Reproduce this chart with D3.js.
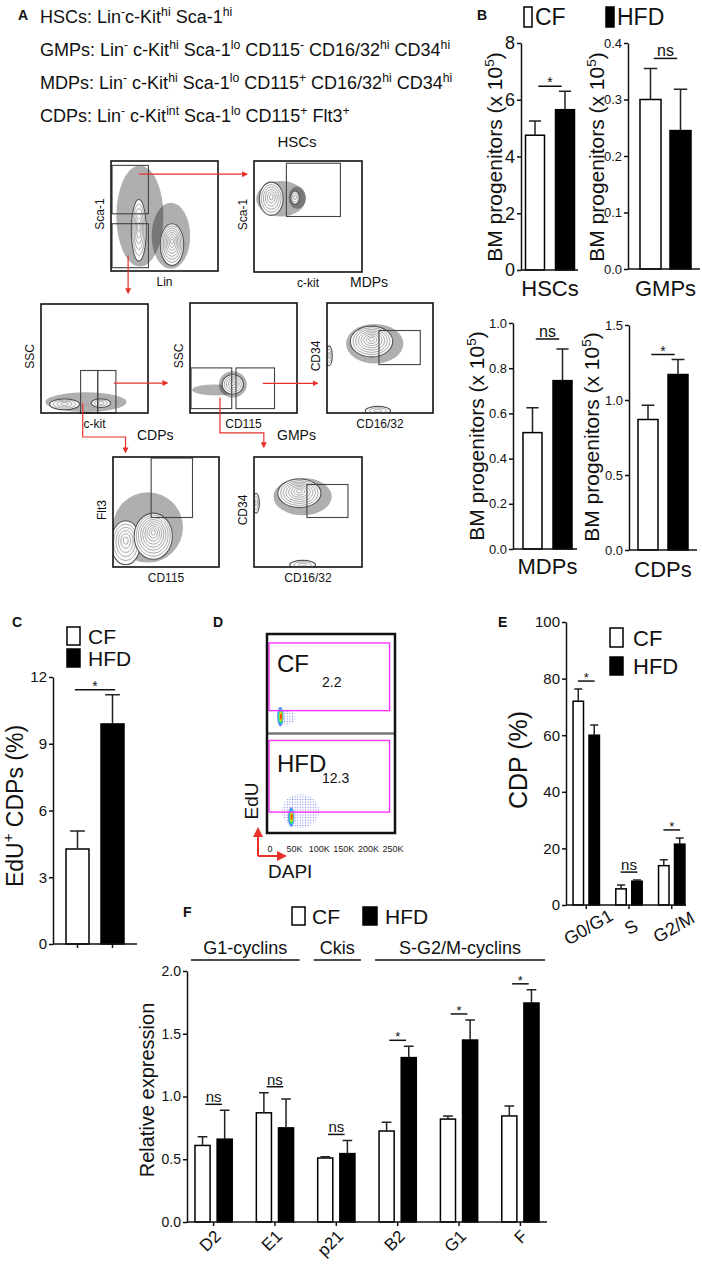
<!DOCTYPE html>
<html>
<head>
<meta charset="utf-8">
<script src="https://cdn.jsdelivr.net/npm/d3@7"></script>
<style>
  body { margin: 0; background: #fff; }
  svg { display: block; font-family: "Liberation Sans", Arial, Helvetica, sans-serif; }
</style>
</head>
<body>
<script>

// ---------- data ----------
// A: phenotypes
var phenoLines = [
  "HSCs: Lin^{-}c-Kit^{hi} Sca-1^{hi}",
  "GMPs: Lin^{-} c-Kit^{hi} Sca-1^{lo} CD115^{-} CD16/32^{hi} CD34^{hi}",
  "MDPs: Lin^{-} c-Kit^{hi} Sca-1^{lo} CD115^{+} CD16/32^{hi} CD34^{hi}",
  "CDPs: Lin^{-} c-Kit^{int} Sca-1^{lo} CD115^{+} Flt3^{+}"
];
// A: gating plots (axis units 0-100)
var flowXLabels = ["Lin", "c-kit", "c-kit", "CD115", "CD16/32", "CD115", "CD16/32"];
var flowYLabels = ["Sca-1", "Sca-1", "SSC", "SSC", "CD34", "Flt3", "CD34"];
var flowGates = [
  [[1, 52, 35, 96], [1, 3, 35, 43]],
  [[30, 50, 80, 98]],
  [[37, 0, 53, 39], [53, 0, 70, 39]],
  [[1, 4, 39, 41], [43, 4, 79, 41]],
  [[49, 44, 88, 75]],
  [[36, 45, 75, 99]],
  [[49, 45, 87, 75]]
];
var flowClouds = [
  [[27, 50, 22, 46], [56, 32, 18, 30]],
  [[25, 66, 23, 16], [40, 67, 8, 10]],
  [[42, 10, 38, 9]],
  [[24, 21, 22, 5], [40, 26, 13, 12]],
  [[45, 63, 27, 18]],
  [[33, 36, 33, 32]],
  [[45, 64, 27, 17]]
];
var flowPops = [
  [[26, 37, 7, 28, 6], [57, 24, 11, 19, 8]],
  [[16, 66, 11, 15, 6], [38, 67, 4, 6, 3]],
  [[22, 8, 14, 5, 4], [56, 9, 9, 4, 3]],
  [[40, 26, 10, 9, 5]],
  [[42, 65, 20, 14, 8], [2, 52, 3, 9, 3], [48, 2, 12, 4, 3]],
  [[12, 22, 14, 20, 6], [38, 28, 18, 21, 9]],
  [[42, 67, 20, 13, 8], [2, 58, 3, 9, 3], [45, 2, 12, 4, 3]]
];
var flowGateNames = ["HSCs", "MDPs", "CDPs", "GMPs"];
// arrows: source plot, path in that plot's units
var flowArrowFrom = [0, 0, 2, 2, 3, 3];
var flowArrowPath = [
  [[26, 88], [127, 88]],
  [[16, 14], [16, -20]],
  [[68, 27.5], [118, 27.5]],
  [[39, 9], [39, -22], [79, -22], [79, -36]],
  [[68, 27], [119, 27]],
  [[28, 14], [28, -18], [69, -18], [69, -31]]
];

// B: BM progenitors (x 10^5)
var bCells = ["HSCs", "GMPs", "MDPs", "CDPs"];
var bCF = [4.75, 0.30, 0.515, 0.87];
var bCFerr = [0.5, 0.055, 0.11, 0.095];
var bHFD = [5.65, 0.245, 0.745, 1.17];
var bHFDerr = [0.65, 0.073, 0.14, 0.10];
var bMax = [8, 0.4, 1.0, 1.5];
var bTicks = [[0, 2, 4, 6, 8], [0, 0.1, 0.2, 0.3, 0.4], [0, 0.2, 0.4, 0.6, 0.8, 1.0], [0, 0.5, 1.0, 1.5]];
var bSig = ["*", "ns", "ns", "*"];

// C: EdU+ CDPs (%)
var cCF = [4.27], cCFerr = [0.81];
var cHFD = [9.89], cHFDerr = [1.31];
var cTicks = [0, 3, 6, 9, 12];
var cSig = ["*"];

// D: EdU vs DAPI
var dSamples = ["CF", "HFD"];
var dPercent = ["2.2", "12.3"];
var dTicks = [0, 50, 100, 150, 200, 250];
var dTickLabels = ["0", "50K", "100K", "150K", "200K", "250K"];
var dGates = [[-2, 23, 243, 91], [-2, 21, 243, 93]];
var dScatter = [[34, 16, 18, 7], [62, 22, 38, 17]];
var dCore = [[21, 17], [43, 16]];

// E: cell cycle
var ePhases = ["G0/G1", "S", "G2/M"];
var eCF = [72, 5.7, 13.9];
var eCFerr = [4.3, 1.4, 2.1];
var eHFD = [60, 8.4, 21.5];
var eHFDerr = [3.6, 0.4, 2.2];
var eTicks = [0, 20, 40, 60, 80, 100];
var eSig = ["*", "ns", "*"];

// F: relative expression
var fGenes = ["D2", "E1", "p21", "B2", "G1", "F"];
var fCF = [0.61, 0.87, 0.51, 0.725, 0.82, 0.845];
var fCFerr = [0.07, 0.16, 0.01, 0.07, 0.025, 0.08];
var fHFD = [0.66, 0.75, 0.545, 1.31, 1.45, 1.745];
var fHFDerr = [0.23, 0.23, 0.105, 0.09, 0.16, 0.105];
var fSig = ["ns", "ns", "ns", "*", "*", "*"];
var fTicks = [0, 0.5, 1.0, 1.5, 2.0];
var fGroupNames = ["G1-cyclins", "Ckis", "S-G2/M-cyclins"];
var fGroupSpan = [[0, 1], [2, 2], [3, 5]];

var series = ["CF", "HFD"];

// ---------- helpers ----------
var svg = d3.select("body").append("svg").attr("width", 702).attr("height", 1267);
var defs = svg.append("defs");
defs.append("pattern").attr("id", "dots").attr("width", 2).attr("height", 2)
    .attr("patternUnits", "userSpaceOnUse")
  .append("circle").attr("cx", 1).attr("cy", 1).attr("r", 0.65).attr("fill", "#000");
defs.append("pattern").attr("id", "bdots").attr("width", 2.6).attr("height", 2.6)
    .attr("patternUnits", "userSpaceOnUse")
  .append("circle").attr("cx", 1.3).attr("cy", 1.3).attr("r", 0.6).attr("fill", "#3344ee");
var mk = defs.append("marker").attr("id", "arrow").attr("viewBox", "0 0 10 10")
    .attr("refX", 8).attr("refY", 5).attr("markerWidth", 5).attr("markerHeight", 5)
    .attr("orient", "auto-start-reverse");
mk.append("path").attr("d", "M0,0L10,5L0,10z").attr("fill", "#e8312b");

function rich(t, str, supFs, raise) {
  var parts = str.split(/(\^\{[^}]*\})/).filter(function (p) { return p.length; });
  var up = false;
  parts.forEach(function (p) {
    var sup = p.charAt(0) === "^";
    var s = t.append("tspan").text(sup ? p.slice(2, -1) : p);
    if (sup) { s.attr("font-size", supFs).attr("dy", up ? 0 : -raise); up = true; }
    else if (up) { s.attr("dy", raise); up = false; }
  });
  return t;
}

function label(x, y, str, fs, opts) {
  opts = opts || {};
  var t = svg.append("text").attr("x", x).attr("y", y).attr("font-size", fs)
    .attr("text-anchor", opts.anchor || "start").attr("fill", "#111");
  if (opts.bold) t.attr("font-weight", "bold");
  return rich(t, str, fs * 0.68, fs * 0.4);
}

function vlabel(cx, cy, str, fs) {
  var t = svg.append("text").attr("font-size", fs).attr("text-anchor", "middle").attr("fill", "#111")
    .attr("transform", "translate(" + (cx + 0.35 * fs) + "," + cy + ") rotate(-90)");
  return rich(t, str, fs * 0.65, fs * 0.42);
}

// slanted category label: its upper-right end sits at (ex, ey); rotated about its own centre
function slant(parent, ex, ey, angle, str, fs) {
  var t = parent.append("text").attr("font-size", fs).attr("text-anchor", "middle")
    .attr("fill", "#111").attr("y", 0.35 * fs).text(str);
  var w = t.node().getComputedTextLength();
  var r = -angle * Math.PI / 180;
  var cx = ex - w / 2 * Math.cos(r), cy = ey + w / 2 * Math.sin(r);
  t.attr("transform", "translate(" + cx + "," + cy + ") rotate(" + angle + ")");
}

function legend(items) {
  items.forEach(function (it) {
    svg.append("rect").attr("x", it.box[0]).attr("y", it.box[1]).attr("width", it.box[2]).attr("height", it.box[3])
      .attr("fill", it.s === "CF" ? "#fff" : "#000").attr("stroke", "#000").attr("stroke-width", 1.5);
    svg.append("text").attr("x", it.tx).attr("y", it.ty).attr("font-size", it.fs).attr("fill", "#111").text(it.s);
  });
}

function yAxis(g, y, x0, ticks, fmt, fs) {
  var a = g.append("g").attr("transform", "translate(" + x0 + ",0)")
    .call(d3.axisLeft(y).tickValues(ticks).tickFormat(fmt).tickSize(4).tickSizeOuter(0).tickPadding(2));
  a.attr("font-family", null).attr("font-size", fs);
  a.selectAll("path,line").attr("stroke", "#111").attr("stroke-width", 1.5);
  a.selectAll("text").attr("fill", "#111");
  return a;
}

function barChart(o) {
  var g = svg.append("g");
  var y = d3.scaleLinear().domain([0, o.max]).range([o.y0, o.y1]);
  var x = d3.scaleBand().domain(o.cats).range(o.xr).paddingInner(o.pi).paddingOuter(o.po);
  var xi = d3.scaleBand().domain(series).range([0, x.bandwidth()])
    .paddingInner(o.pi2).paddingOuter(o.po2 || 0);
  var rows = [];
  o.cats.forEach(function (c, i) {
    rows.push({ c: c, s: "CF", v: o.cf[i], e: o.cfErr[i] });
    rows.push({ c: c, s: "HFD", v: o.hfd[i], e: o.hfdErr[i] });
  });
  function cx(d) { return x(d.c) + xi(d.s) + xi.bandwidth() / 2; }
  var cap = Math.max(4, xi.bandwidth() * 0.32);

  g.selectAll("rect.bar").data(rows).enter().append("rect").attr("class", "bar")
    .attr("x", function (d) { return x(d.c) + xi(d.s); })
    .attr("y", function (d) { return y(d.v); })
    .attr("width", xi.bandwidth())
    .attr("height", function (d) { return y(0) - y(d.v); })
    .attr("fill", function (d) { return d.s === "CF" ? "#fff" : "#000"; })
    .attr("stroke", "#000").attr("stroke-width", 1.5);

  g.selectAll("path.eb").data(rows).enter().append("path").attr("class", "eb")
    .attr("d", function (d) {
      var t = y(d.v + d.e);
      return "M" + cx(d) + "," + y(d.v) + "V" + t + "M" + (cx(d) - cap) + "," + t + "H" + (cx(d) + cap);
    })
    .attr("fill", "none").attr("stroke", "#222").attr("stroke-width", 1.5);

  // significance marks
  o.cats.forEach(function (c, i) {
    var top = Math.min(y(o.cf[i] + o.cfErr[i]), y(o.hfd[i] + o.hfdErr[i])) - o.sigGap;
    var c1 = x(c) + xi("CF") + xi.bandwidth() / 2, c2 = x(c) + xi("HFD") + xi.bandwidth() / 2;
    var m = (c1 + c2) / 2, hw = (c2 - c1) / 2 * o.sigW;
    g.append("line").attr("x1", m - hw).attr("x2", m + hw).attr("y1", top).attr("y2", top)
      .attr("stroke", "#111").attr("stroke-width", 1.5);
    var star = o.sig[i] === "*";
    g.append("text").attr("x", m).attr("y", star ? top + 1 : top - 2)
      .attr("text-anchor", "middle").attr("font-size", star ? o.starFs : o.nsFs)
      .attr("fill", "#111").text(o.sig[i]);
  });

  yAxis(g, y, o.xr[0], o.ticks, o.fmt, o.tickFs);
  g.append("line").attr("x1", o.xr[0]).attr("x2", o.axisEnd).attr("y1", y(0)).attr("y2", y(0))
    .attr("stroke", "#111").attr("stroke-width", 1.5);
  return { g: g, x: x, xi: xi, y: y };
}

// ---------- panel A ----------
label(18, 20, "A", 14, { bold: true });
phenoLines.forEach(function (s, i) { label(40, 23 + i * 33, s, 18); });

var flowBoxes = [
  [111, 161, 218, 271], [254, 161, 362, 272], [41, 304, 148, 413], [190, 303, 297, 413],
  [327, 303, 433, 413], [113, 457, 219, 567], [254, 457, 362, 567]
];
var flowScales = [];
flowBoxes.forEach(function (b, i) {
  var fx = d3.scaleLinear().domain([0, 100]).range([b[0], b[2]]);
  var fy = d3.scaleLinear().domain([0, 100]).range([b[3], b[1]]);
  flowScales.push([fx, fy]);
  defs.append("clipPath").attr("id", "clip" + i).append("rect")
    .attr("x", b[0]).attr("y", b[1]).attr("width", b[2] - b[0]).attr("height", b[3] - b[1]);
  var g = svg.append("g");
  var inner = g.append("g").attr("clip-path", "url(#clip" + i + ")");
  inner.selectAll("ellipse.cloud").data(flowClouds[i]).enter().append("ellipse")
    .attr("cx", function (d) { return fx(d[0]); })
    .attr("cy", function (d) { return fy(d[1]); })
    .attr("rx", function (d) { return fx(d[2]) - fx(0); })
    .attr("ry", function (d) { return fy(0) - fy(d[3]); })
    .attr("fill", "url(#dots)").attr("opacity", 0.9);
  flowPops[i].forEach(function (p) {
    var rings = d3.range(p[4], 0, -1);
    inner.selectAll(null).data(rings).enter().append("ellipse")
      .attr("cx", fx(p[0]))
      .attr("cy", function (k) { return fy(p[1] + (p[4] - k) * 0.02 * p[3]); })
      .attr("rx", function (k) { return (fx(p[2]) - fx(0)) * k / p[4]; })
      .attr("ry", function (k) { return (fy(0) - fy(p[3])) * k / p[4]; })
      .attr("fill", function (k) { return k === p[4] ? "#fafafa" : "none"; })
      .attr("stroke", function (k) { return k === p[4] ? "#555" : "#8a8a8a"; })
      .attr("stroke-width", function (k) { return k === p[4] ? 1.1 : 0.7; });
  });
  g.selectAll("rect.gate").data(flowGates[i]).enter().append("rect")
    .attr("x", function (d) { return fx(d[0]); })
    .attr("y", function (d) { return fy(d[3]); })
    .attr("width", function (d) { return fx(d[2]) - fx(d[0]); })
    .attr("height", function (d) { return fy(d[1]) - fy(d[3]); })
    .attr("fill", "none").attr("stroke", "#444").attr("stroke-width", 1.1);
  g.append("rect").attr("x", b[0]).attr("y", b[1]).attr("width", b[2] - b[0]).attr("height", b[3] - b[1])
    .attr("fill", "none").attr("stroke", "#111").attr("stroke-width", 1.6);
  label((b[0] + b[2]) / 2, b[3] + 15, flowXLabels[i], 12, { anchor: "middle" });
  vlabel(b[0] - 11, (b[1] + b[3]) / 2 - 2, flowYLabels[i], 12);
});
label(297, 147, flowGateNames[0], 15, { anchor: "middle" });
label(350, 287, flowGateNames[1], 14);
label(137, 440, flowGateNames[2], 14);
label(277, 440, flowGateNames[3], 14);

var arrowLine = d3.line();
flowArrowPath.forEach(function (pts, i) {
  var s = flowScales[flowArrowFrom[i]];
  svg.append("path")
    .attr("d", arrowLine(pts.map(function (p) { return [s[0](p[0]), s[1](p[1])]; })))
    .attr("fill", "none").attr("stroke", "#e8312b").attr("stroke-width", 1.2)
    .attr("marker-end", "url(#arrow)");
});

// ---------- panel B ----------
label(477, 20, "B", 14, { bold: true });
legend([
  { s: "CF", box: [524, 7, 8, 20], tx: 535, ty: 25, fs: 23 },
  { s: "HFD", box: [606, 7, 8, 20], tx: 617, ty: 25, fs: 23 }
]);
var bLayout = [
  { xr: [521, 579], y0: 270, y1: 43, po: 0.092, pi2: 0.367, axisEnd: 578, tickFs: 18, fmt: d3.format("d"), lx: 495, ly: 157, cy: 296 },
  { xr: [628, 703], y0: 269, y1: 43, po: 0.235, pi2: 0.30, axisEnd: 700, tickFs: 13, fmt: d3.format(".1f"), lx: 597, ly: 157, cy: 296 },
  { xr: [513, 582], y0: 549, y1: 323, po: 0.204, pi2: 0.367, axisEnd: 577, tickFs: 13, fmt: d3.format(".1f"), lx: 477, ly: 436, cy: 574 },
  { xr: [629, 697], y0: 550, y1: 325, po: 0.18, pi2: 0.333, axisEnd: 697, tickFs: 13, fmt: d3.format(".1f"), lx: 592, ly: 437, cy: 577 }
];
bCells.forEach(function (c, i) {
  var L = bLayout[i];
  var ch = barChart({
    cats: [c], cf: [bCF[i]], cfErr: [bCFerr[i]], hfd: [bHFD[i]], hfdErr: [bHFDerr[i]], sig: [bSig[i]],
    max: bMax[i], ticks: bTicks[i], fmt: L.fmt, tickFs: L.tickFs,
    xr: L.xr, y0: L.y0, y1: L.y1, pi: 0, po: L.po, pi2: L.pi2, axisEnd: L.axisEnd,
    sigGap: i % 3 === 0 ? 5 : 10, sigW: 0.78, starFs: 14, nsFs: 16
  });
  ch.g.append("text").attr("x", ch.x(c) + ch.x.bandwidth() / 2).attr("y", L.cy)
    .attr("text-anchor", "middle").attr("font-size", 22).attr("fill", "#111").text(c);
  vlabel(L.lx, L.ly, "BM progenitors (x 10^{5})", 21);
});

// ---------- panel C ----------
label(12, 627, "C", 14, { bold: true });
legend([
  { s: "CF", box: [67, 627, 13, 18], tx: 88, ty: 644, fs: 21 },
  { s: "HFD", box: [67, 649, 13, 18], tx: 88, ty: 666, fs: 21 }
]);
var cChart = barChart({
  cats: ["EdU"], cf: cCF, cfErr: cCFerr, hfd: cHFD, hfdErr: cHFDerr, sig: cSig,
  max: 12, ticks: cTicks, fmt: d3.format("d"), tickFs: 15,
  xr: [53, 137], y0: 944, y1: 677, pi: 0, po: 0.224, pi2: 0.343, axisEnd: 137,
  sigGap: 5, sigW: 1.15, starFs: 14, nsFs: 15
});
series.forEach(function (s) {
  var px = cChart.x("EdU") + cChart.xi(s) + cChart.xi.bandwidth() / 2;
  cChart.g.append("line").attr("x1", px).attr("x2", px).attr("y1", 944).attr("y2", 948)
    .attr("stroke", "#111").attr("stroke-width", 1.5);
});
vlabel(15, 806, "EdU^{+} CDPs (%)", 23);

// ---------- panel D ----------
label(213, 627, "D", 14, { bold: true });
var dFrame = [267, 634, 395, 833];
var dx = d3.scaleLinear().domain([0, 250]).range([270, 393]);
var dHalf = (dFrame[3] - dFrame[1]) / 2;
var densityColors = ["#3b4cff", "#19c6ff", "#3ad83a", "#f2e600", "#ff3300"];
dSamples.forEach(function (s, i) {
  var top = dFrame[1] + i * dHalf;
  var dy = d3.scaleLinear().domain([0, 100]).range([top + dHalf, top]);
  var sc = dScatter[i];
  svg.append("ellipse").attr("cx", dx(sc[0])).attr("cy", dy(sc[1]))
    .attr("rx", dx(sc[2]) - dx(0)).attr("ry", dy(0) - dy(sc[3]))
    .attr("fill", "url(#bdots)").attr("opacity", 0.7);
  var core = dCore[i];
  densityColors.forEach(function (col, k) {
    var f = 1 - k * 0.17;
    svg.append("ellipse").attr("cx", dx(core[0] + k * 0.3)).attr("cy", dy(core[1]))
      .attr("rx", (dx(6.5) - dx(0)) * f).attr("ry", (dy(0) - dy(10)) * f)
      .attr("fill", col).attr("opacity", k === 0 ? 0.7 : 0.9);
  });
  var gt = dGates[i];
  svg.append("rect").attr("x", dx(gt[0])).attr("y", dy(gt[3]))
    .attr("width", dx(gt[2]) - dx(gt[0])).attr("height", dy(gt[1]) - dy(gt[3]))
    .attr("fill", "none").attr("stroke", "#ff33ff").attr("stroke-width", 1.4);
  svg.append("text").attr("x", 277).attr("y", top + 38).attr("font-size", 24).attr("fill", "#111").text(s);
  svg.append("text").attr("x", 322).attr("y", top + (i === 0 ? 53 : 49)).attr("font-size", 14)
    .attr("fill", "#111").text(dPercent[i]);
});
svg.append("line").attr("x1", dFrame[0]).attr("x2", dFrame[2]).attr("y1", dFrame[1] + dHalf).attr("y2", dFrame[1] + dHalf)
  .attr("stroke", "#777").attr("stroke-width", 2.5);
svg.append("rect").attr("x", dFrame[0]).attr("y", dFrame[1]).attr("width", dFrame[2] - dFrame[0])
  .attr("height", dFrame[3] - dFrame[1]).attr("fill", "none").attr("stroke", "#111").attr("stroke-width", 2.5);
svg.selectAll("text.dtick").data(dTicks).enter().append("text").attr("class", "dtick")
  .attr("x", function (d) { return dx(d); }).attr("y", 852)
  .attr("text-anchor", "middle")
  .attr("font-size", 9).attr("fill", "#222")
  .text(function (d, i) { return dTickLabels[i]; });
svg.append("path").attr("d", "M258,856V829").attr("stroke", "#e8312b").attr("stroke-width", 2)
  .attr("fill", "none").attr("marker-end", "url(#arrow)");
svg.append("path").attr("d", "M258,856H285").attr("stroke", "#e8312b").attr("stroke-width", 2)
  .attr("fill", "none").attr("marker-end", "url(#arrow)");
vlabel(251, 801, "EdU", 19);
label(268, 878, "DAPI", 19);

// ---------- panel E ----------
label(498, 627, "E", 14, { bold: true });
legend([
  { s: "CF", box: [610, 628, 13, 19], tx: 633, ty: 646, fs: 22 },
  { s: "HFD", box: [610, 657, 13, 18], tx: 633, ty: 674, fs: 22 }
]);
var eChart = barChart({
  cats: ePhases, cf: eCF, cfErr: eCFerr, hfd: eHFD, hfdErr: eHFDerr, sig: eSig,
  max: 100, ticks: eTicks, fmt: d3.format("d"), tickFs: 15,
  xr: [566, 692], y0: 905, y1: 622, pi: 0.345, po: 0.146, pi2: 0.344, po2: 0.05, axisEnd: 686,
  sigGap: 8, sigW: 1.05, starFs: 13, nsFs: 15
});
ePhases.forEach(function (p) {
  var px = eChart.x(p) + eChart.x.bandwidth() / 2;
  eChart.g.append("line").attr("x1", px).attr("x2", px).attr("y1", 905).attr("y2", 909)
    .attr("stroke", "#111").attr("stroke-width", 1.5);
  var t = eChart.g.append("text").attr("font-size", 18).attr("text-anchor", "middle").attr("fill", "#111")
    .attr("y", 0.35 * 18).attr("transform", "translate(" + (px + 2) + ",927) rotate(-30)").text(p);
});
vlabel(518, 760, "CDP (%)", 25);

// ---------- panel F ----------
label(183, 917, "F", 14, { bold: true });
legend([
  { s: "CF", box: [292, 907, 13, 18], tx: 312, ty: 924, fs: 21 },
  { s: "HFD", box: [363, 907, 14, 18], tx: 385, ty: 924, fs: 21 }
]);
var fChart = barChart({
  cats: fGenes, cf: fCF, cfErr: fCFerr, hfd: fHFD, hfdErr: fHFDerr, sig: fSig,
  max: 2.0, ticks: fTicks, fmt: d3.format(".1f"), tickFs: 14,
  xr: [187, 547], y0: 1222, y1: 971, pi: 0.393, po: 0.13, pi2: 0.318, axisEnd: 547,
  sigGap: 6, sigW: 0.75, starFs: 13, nsFs: 15
});
fGenes.forEach(function (gname) {
  var px = fChart.x(gname) + fChart.x.bandwidth() / 2;
  fChart.g.append("line").attr("x1", px).attr("x2", px).attr("y1", 1222).attr("y2", 1226)
    .attr("stroke", "#111").attr("stroke-width", 1.5);
  slant(fChart.g, px + 4, 1233, -45, gname, 17);
});
fGroupNames.forEach(function (n, i) {
  var a = fChart.x(fGenes[fGroupSpan[i][0]]) - 4;
  var b = fChart.x(fGenes[fGroupSpan[i][1]]) + fChart.x.bandwidth() + 6;
  svg.append("line").attr("x1", a).attr("x2", b).attr("y1", 960).attr("y2", 960)
    .attr("stroke", "#111").attr("stroke-width", 1.5);
  svg.append("text").attr("x", (a + b) / 2).attr("y", 954).attr("text-anchor", "middle")
    .attr("font-size", 18).attr("fill", "#111").text(n);
});
vlabel(147, 1090, "Relative expression", 20);

</script>
</body>
</html>
